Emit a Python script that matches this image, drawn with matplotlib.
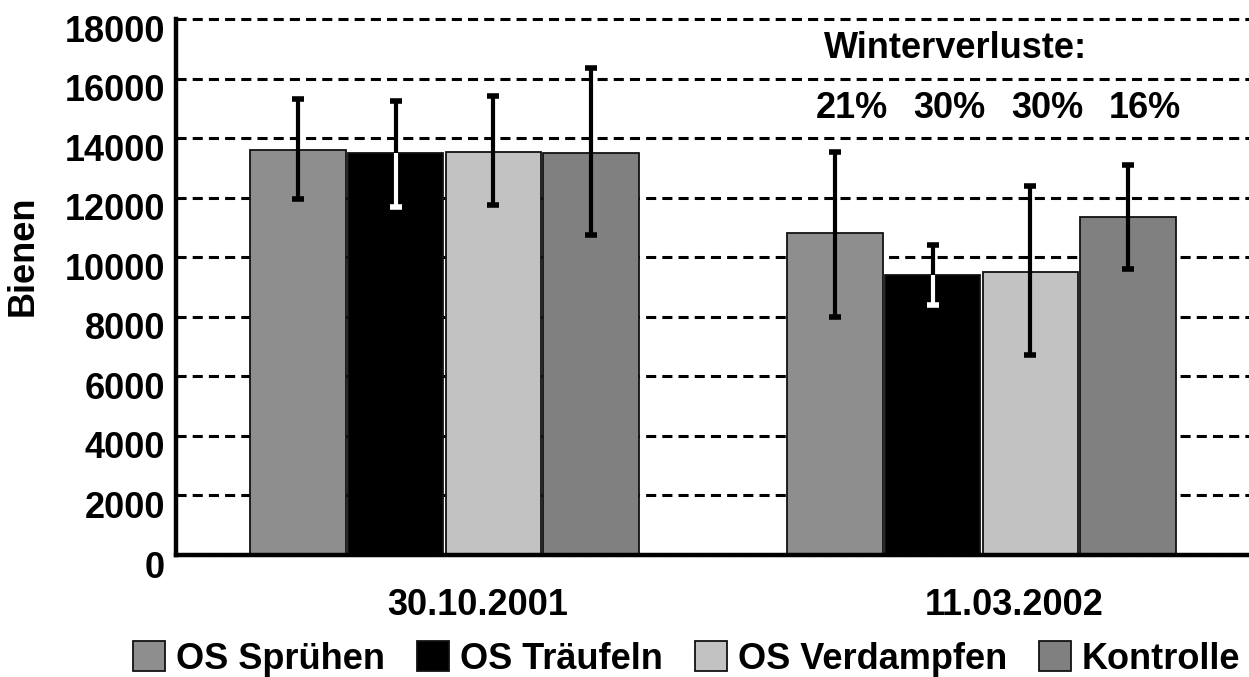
import numpy as np
import matplotlib
matplotlib.use('Agg')
import matplotlib.pyplot as plt
from matplotlib.transforms import ScaledTranslation

# data
dates = ['30.10.2001', '11.03.2002']
series = ['OS Sprühen', 'OS Träufeln', 'OS Verdampfen', 'Kontrolle']
means = [[13600, 10800],
         [13500, 9400],
         [13550, 9500],
         [13500, 11350]]
err_low = [[11950, 8000],
           [11700, 8400],
           [11750, 6700],
           [10750, 9600]]
err_high = [[15300, 13550],
            [15250, 10400],
            [15400, 12400],
            [16350, 13100]]
losses = ['21%', '30%', '30%', '16%']
colors = ['#8e8e8e', '#000000', '#c2c2c2', '#808080']

plt.rcParams['font.family'] = ['Liberation Sans', 'DejaVu Sans']
plt.rcParams['font.weight'] = 'bold'

fig = plt.figure(figsize=(12.49, 6.77), dpi=100)
ax = fig.add_axes([176/1249, 122/677, 1074/1249, 536/677])

x = np.arange(len(dates))
step = 0.182
width = 0.178
handles = []
for i, name in enumerate(series):
    xs = x + (i - 1.5) * step
    b = ax.bar(xs, means[i], width, color=colors[i], edgecolor='#111111',
               linewidth=1.3, label=name, zorder=2)
    handles.append(b)
    # error bar part inside the black bar is drawn white
    inner = 'white' if colors[i] == '#000000' else 'black'
    for xi, m, lo, hi in zip(xs, means[i], err_low[i], err_high[i]):
        ax.vlines(xi, m, hi, color='black', lw=3, zorder=3)
        ax.vlines(xi, lo, m, color=inner, lw=3, zorder=3)
        ax.plot([xi], [hi], marker='_', ms=9, mew=4, color='black', zorder=3)
        ax.plot([xi], [lo], marker='_', ms=9, mew=4, color=inner, zorder=3)

ax.set_xlim(-0.5, 1.5)
ax.set_ylim(0, 18000)
ax.set_yticks(np.arange(0, 18001, 2000))
ax.set_xticks(x)
ax.set_xticklabels(dates, fontsize=26, fontweight='bold')
ax.tick_params(axis='both', length=0)
ax.tick_params(axis='y', labelsize=26, pad=8)
ax.tick_params(axis='x', pad=24)
for lab in ax.get_yticklabels():
    lab.set_fontweight('bold')
    lab.set_transform(lab.get_transform() + ScaledTranslation(0, -0.09, fig.dpi_scale_trans))
for lab in ax.get_xticklabels():
    lab.set_transform(lab.get_transform() + ScaledTranslation(0.33, 0, fig.dpi_scale_trans))

ax.yaxis.grid(True, color='black', lw=2.2, linestyle=(0, (3.3, 2.0)), zorder=0)
for gl in ax.get_ygridlines():
    gl.set_clip_on(False)
ax.set_axisbelow(True)

for s in ['top', 'right']:
    ax.spines[s].set_visible(False)
ax.spines['left'].set_linewidth(3.2)
ax.spines['bottom'].set_linewidth(3.2)
ax.spines['left'].set_zorder(4)
ax.spines['bottom'].set_zorder(4)

fig.text(23/1249, 1 - 256/677, 'Bienen', rotation=90, ha='center', va='center',
         fontsize=26, fontweight='bold')

ax.text(1 - 0.048, 17000, 'Winterverluste:', ha='center', va='center',
        fontsize=26, fontweight='bold')
for i, t in enumerate(losses):
    ax.text(1 + (i - 1.5) * step + 0.032, 15000, t, ha='center', va='center',
            fontsize=26, fontweight='bold')

fig.legend(handles=handles, labels=series, loc='center left',
           bbox_to_anchor=(133/1249, 1 - 659/677), ncol=4, frameon=False,
           fontsize=26, handlelength=0.88, handleheight=0.88,
           handletextpad=0.3, columnspacing=0.9, borderaxespad=0, borderpad=0)

fig.savefig('out.png', dpi=100)
